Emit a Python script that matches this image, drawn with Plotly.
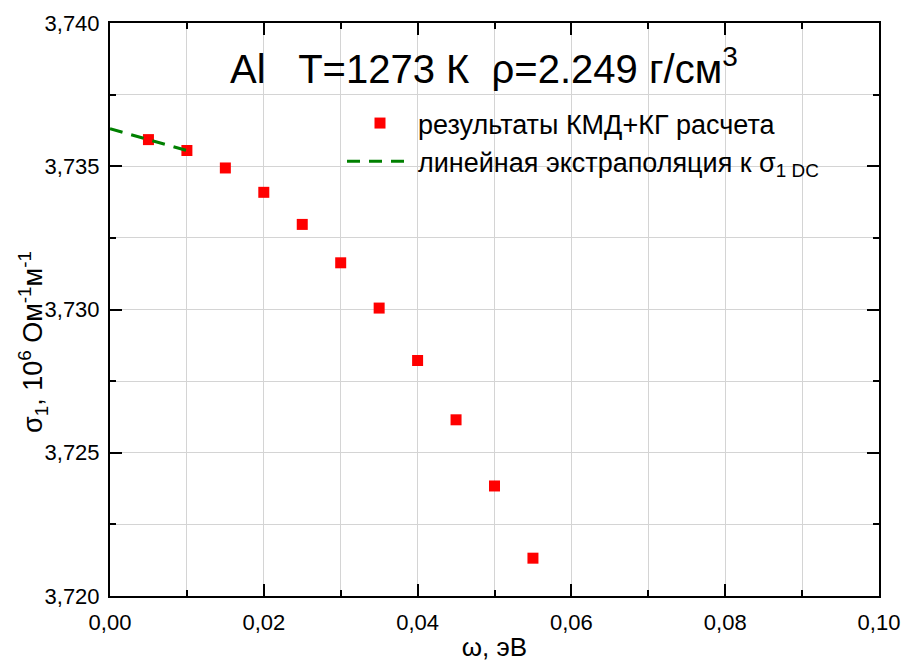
import plotly.graph_objects as go

# data
omega = [0.005, 0.010, 0.015, 0.020, 0.025, 0.030, 0.035, 0.040, 0.045, 0.050, 0.055]
sigma1 = [3.73593, 3.73555, 3.73494, 3.73409, 3.73297, 3.73163, 3.73005, 3.72822, 3.72615, 3.72384, 3.72132]
extrap_x = [0.0, 0.010]
extrap_y = [3.73631, 3.73555]

name_calc = "результаты КМД+КГ расчета"
name_extrap = "линейная экстраполяция к σ<sub>1 DC</sub>"
title_text = "Al   T=1273 К  ρ=2.249 г/см<sup>3</sup>"
x_title = "ω, эВ"
y_title = "σ<sub>1</sub>, 10<sup>6</sup> Ом<sup>-1</sup>м<sup>-1</sup>"

W, H = 903, 662
ML, MR, MT, MB = 110, 24, 23, 66
PW, PH = W - ML - MR, H - MT - MB

def px(x):
    return (x - ML) / PW

def py(y):
    return (H - MB - y) / PH

FONT = "Liberation Sans, Arial, sans-serif"

fig = go.Figure()
fig.add_trace(go.Scatter(
    x=omega, y=sigma1, mode="markers", name=name_calc,
    marker=dict(symbol="square", size=11, color="#ff0000", line=dict(width=0)),
))
fig.add_trace(go.Scatter(
    x=extrap_x, y=extrap_y, mode="lines", name=name_extrap,
    line=dict(color="#008000", width=3, dash="13px,9px"),
))

axis_common = dict(
    showline=True, linecolor="black", linewidth=2, mirror="allticks",
    ticks="inside", ticklen=12, tickwidth=2, tickcolor="black",
    showgrid=True, gridcolor="#d4d4d4", gridwidth=1, zeroline=False,
    tickfont=dict(family=FONT, size=22, color="black"),
    automargin=False,
)

fig.update_xaxes(
    range=[0, 0.10], dtick=0.02, tick0=0, tickformat=".2f",
    ticklabelstandoff=6,
    minor=dict(dtick=0.01, ticks="inside", ticklen=6, tickwidth=2, tickcolor="black",
               showgrid=True, gridcolor="#d4d4d4", gridwidth=1),
    title=dict(text=x_title, font=dict(family=FONT, size=26, color="black"), standoff=7),
    **axis_common,
)
fig.update_yaxes(
    range=[3.720, 3.740], dtick=0.005, tick0=3.720, tickformat=".3f",
    ticklabelstandoff=4,
    minor=dict(dtick=0.0025, ticks="inside", ticklen=6, tickwidth=2, tickcolor="black",
               showgrid=True, gridcolor="#d4d4d4", gridwidth=1),
    **axis_common,
)

# y-axis title (placed like the reference, lower than axis centre)
fig.add_annotation(
    xref="paper", yref="paper", x=px(33), y=py(342), xanchor="center", yanchor="middle",
    text=y_title, textangle=-90, showarrow=False,
    font=dict(family=FONT, size=27, color="black"),
)

# white boxes behind the title and legend (cover gridlines)
fig.add_shape(type="rect", xref="paper", yref="paper", layer="between",
              x0=px(200), x1=px(802), y0=py(95), y1=py(25),
              fillcolor="white", line=dict(width=0))
fig.add_shape(type="rect", xref="paper", yref="paper", layer="between",
              x0=px(308), x1=px(848), y0=py(190), y1=py(95),
              fillcolor="white", line=dict(width=0))

fig.add_annotation(
    xref="paper", yref="paper", x=px(484), y=py(66), xanchor="center", yanchor="middle",
    text=title_text, showarrow=False,
    font=dict(family=FONT, size=40, color="black"),
)

fig.update_layout(
    width=W, height=H,
    margin=dict(l=ML, r=MR, t=MT, b=MB),
    paper_bgcolor="white", plot_bgcolor="white",
    separators=", ",
    showlegend=True,
    legend=dict(
        x=px(342), y=py(99), xanchor="left", yanchor="top",
        bgcolor="rgba(0,0,0,0)", borderwidth=0,
        font=dict(family=FONT, size=27, color="black"),
        itemwidth=66, tracegroupgap=0,
    ),
)

fig.write_html("out.html")
